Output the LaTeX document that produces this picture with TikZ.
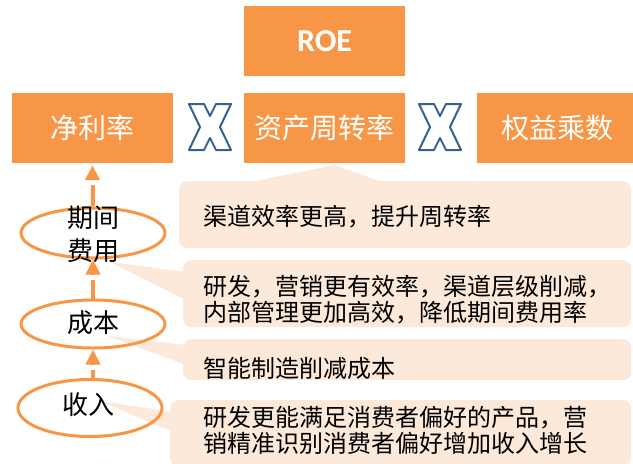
\documentclass[tikz,border=0pt]{standalone}
\usepackage{fontspec}
\setmainfont{Carlito}
\newfontfamily\cjk{Noto Sans CJK SC}
\newfontfamily\roefont{Carlito}
\usetikzlibrary{shapes.geometric,arrows.meta,calc}
\definecolor{org}{HTML}{F79646}
\definecolor{lorg}{HTML}{FDE9D9}
\definecolor{xblue}{RGB}{55,96,146}
\tikzset{
  hbox/.style={fill=org, minimum width=161pt, minimum height=70pt, inner sep=0pt, text=white, font=\cjk\fontsize{28}{30}\selectfont},
  callout/.style={fill=lorg, rounded corners=8pt, inner sep=0pt, anchor=north west},
  ptr/.style={fill=lorg},
  ell/.style={ellipse, draw=org, line width=3pt, minimum width=144pt, inner sep=0pt},
  elltext/.style={font=\cjk\fontsize{26}{33}\selectfont, align=center, inner sep=0pt},
  ctext/.style={font=\cjk\fontsize{24}{26}\selectfont, align=left, anchor=west, inner sep=0pt},
  shaft/.style={draw=org, line width=4pt},
  arrhead/.style={draw=org, line width=4pt, -{Triangle[width=14pt,length=15pt]}},
  xmark/.pic={\draw[xblue, fill=white, line width=2pt, line join=round]
     (-21,-23) -- (-6,-23) -- (0,-11) -- (6,-23) -- (21,-23) -- (10,0) -- (21,23)
     -- (6,23) -- (0,11) -- (-6,23) -- (-21,23) -- (-10,0) -- cycle;}
}
\begin{document}
\begin{tikzpicture}[x=1pt,y=-1pt]
\useasboundingbox (0,0) rectangle (633,464);
% callouts
\node[callout, minimum width=452pt, minimum height=67pt] (c1) at (179,181) {};
\node[callout, minimum width=448pt, minimum height=67pt] (c2) at (183,260) {};
\node[callout, minimum width=448pt, minimum height=41pt] (c3) at (183,339) {};
\node[callout, minimum width=461pt, minimum height=66pt] (c4) at (170,400) {};
\fill[ptr] (250,182) -- (335,165) -- (382,182) -- cycle;
\fill[ptr] (110,262) -- (186,272) -- (186,300) -- cycle;
\fill[ptr] (108,336) -- (186,345) -- (186,365) -- cycle;
\fill[ptr] (100,401) -- (173,412) -- (173,432) -- cycle;
\node[ctext] (t1) at (203,217) {渠道效率更高，提升周转率};
\node[ctext] (t2) at (203,300) {研发，营销更有效率，渠道层级削减，\\内部管理更加高效，降低期间费用率};
\node[ctext] (t3) at (203,368) {智能制造削减成本};
\node[ctext] (t4) at (203,430) {研发更能满足消费者偏好的产品，营\\销精准识别消费者偏好增加收入增长};
% top boxes
\node[hbox, font=\roefont\bfseries\fontsize{32}{34}\selectfont] (roe) at (324.5,41) {ROE};
\node[hbox] (jl) at (92.5,128) {净利率};
\node[hbox] (zc) at (324.5,128) {资产周转率};
\node[hbox] (qy) at (557.5,128) {权益乘数};
\pic at (210,127) {xmark};
\pic at (440,127) {xmark};
% ellipses
\node[ell, minimum height=50pt] (e3) at (93,233) {};
\node[ell, minimum height=48pt] (e2) at (93,324) {};
\node[ell, minimum height=57pt] (e1) at (90,408) {};
\node[elltext] (l3) at (93,234) {期间\\费用};
\node[elltext] (l2) at (93,323) {成本};
\node[elltext] (l1) at (89,405) {收入};
% arrows
\draw[shaft, shorten >=22pt] (e3.north) -- (jl.south);
\draw[arrhead, shorten >=2pt] ($(jl.south)+(0,17)$) -- (jl.south);
\draw[shaft, shorten >=20pt] (e2.north) -- (e3.south);
\draw[arrhead] ($(e3.south)+(0,15)$) -- (e3.south);
\draw[shaft, shorten >=20pt] (e2.south |- e1.north) -- (e2.south);
\draw[arrhead] ($(e2.south)+(0,15)$) -- (e2.south);
\end{tikzpicture}
\end{document}
